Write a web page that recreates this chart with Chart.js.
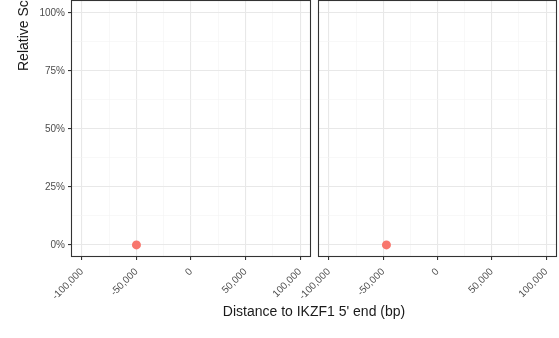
<!DOCTYPE html>
<html>
<head>
<meta charset="utf-8">
<script src="https://cdn.jsdelivr.net/npm/chart.js@4/dist/chart.umd.min.js"></script>
<style>
  body { margin: 0; background: #fff; width: 559px; height: 338px; overflow: hidden; position: relative; font-family: "Liberation Sans", Arial, sans-serif; }
  canvas { position: absolute; top: 0; }
  #yTitle { position: absolute; left: 16px; top: 71px; transform-origin: 0 0; transform: rotate(-90deg); font-size: 14px; line-height: 1; white-space: nowrap; color: #1a1a1a; }
  #xTitle { position: absolute; left: 71px; width: 486px; top: 303px; text-align: center; font-size: 14px; color: #1a1a1a; }
</style>
</head>
<body>
<canvas id="panelLeft" width="314" height="338" style="left:0"></canvas>
<canvas id="panelRight" width="279" height="338" style="left:280px"></canvas>
<div id="yTitle">Relative Score</div>
<div id="xTitle">Distance to IKZF1 5' end (bp)</div>
<script>
// data
var leftX = [-50000];
var leftY = [0];
var rightX = [-47000];
var rightY = [0];

var xTickValues = [-100000, -50000, 0, 50000, 100000];
var xTickLabels = ["-100,000", "-50,000", "0", "50,000", "100,000"];
var xMinorValues = [-75000, -25000, 25000, 75000];
var yTickValues = [0, 25, 50, 75, 100];
var yTickLabels = ["0%", "25%", "50%", "75%", "100%"];
var yMinorValues = [12.5, 37.5, 62.5, 87.5];

var xMin = -110000, xMax = 110000;
var yMin = -5.2, yMax = 105.6;

function isMajor(list, v){
  return list.indexOf(v) >= 0;
}

var panelBorder = {
  id: 'panelBorder',
  afterDraw: function(chart){
    var a = chart.chartArea;
    var ctx = chart.ctx;
    ctx.save();
    ctx.strokeStyle = '#333333';
    ctx.lineWidth = 1.1;
    ctx.strokeRect(a.left + 0.5, a.top + 0.5, a.right - a.left - 1, a.bottom - a.top - 1);
    ctx.restore();
  }
};

function makeX(){
  return {
    type: 'linear',
    min: xMin,
    max: xMax,
    afterBuildTicks: function(scale){
      var all = xTickValues.concat(xMinorValues).sort(function(a,b){return a-b;});
      scale.ticks = all.map(function(v){ return {value: v}; });
    },
    afterFit: function(scale){
      scale.height = 81;
      scale.paddingLeft = 0;
      scale.paddingRight = 0;
    },
    border: {display: false},
    grid: {
      color: function(c){ return isMajor(xTickValues, c.tick.value) ? '#e8e8e8' : '#f3f3f3'; },
      lineWidth: function(c){ return isMajor(xTickValues, c.tick.value) ? 1.1 : 0.6; },
      tickColor: function(c){ return isMajor(xTickValues, c.tick.value) ? '#333333' : 'rgba(0,0,0,0)'; },
      tickLength: 3,
      drawTicks: true
    },
    ticks: {
      autoSkip: false,
      minRotation: 45,
      maxRotation: 45,
      padding: 6,
      color: '#4d4d4d',
      font: {family: '"Liberation Sans", Arial, sans-serif', size: 10},
      callback: function(v){
        var i = xTickValues.indexOf(v);
        return i >= 0 ? xTickLabels[i] : '';
      }
    }
  };
}

function makeY(show){
  return {
    type: 'linear',
    display: true,
    min: yMin,
    max: yMax,
    afterBuildTicks: function(scale){
      var all = yTickValues.concat(yMinorValues).sort(function(a,b){return a-b;});
      scale.ticks = all.map(function(v){ return {value: v}; });
    },
    afterFit: function(scale){
      scale.width = show ? 71 : 0;
      scale.paddingTop = 0;
      scale.paddingBottom = 0;
    },
    border: {display: false},
    grid: {
      color: function(c){ return isMajor(yTickValues, c.tick.value) ? '#e8e8e8' : '#f3f3f3'; },
      lineWidth: function(c){ return isMajor(yTickValues, c.tick.value) ? 1.1 : 0.6; },
      tickColor: function(c){ return (show && isMajor(yTickValues, c.tick.value)) ? '#333333' : 'rgba(0,0,0,0)'; },
      tickLength: show ? 3 : 0,
      drawTicks: show
    },
    ticks: {
      display: show,
      padding: 3,
      color: '#4d4d4d',
      font: {family: '"Liberation Sans", Arial, sans-serif', size: 10},
      callback: function(v){
        var i = yTickValues.indexOf(v);
        return i >= 0 ? yTickLabels[i] : '';
      }
    }
  };
}

function makePanel(id, xs, ys, showY, pad){
  var pts = xs.map(function(x, i){ return {x: x, y: ys[i]}; });
  return new Chart(document.getElementById(id), {
    type: 'scatter',
    data: {
      datasets: [{
        data: pts,
        backgroundColor: '#F8766D',
        borderWidth: 0,
        pointRadius: 4.5
      }]
    },
    options: {
      responsive: false,
      animation: false,
      devicePixelRatio: 1,
      layout: {padding: pad, autoPadding: false},
      plugins: {legend: {display: false}, tooltip: {enabled: false}},
      scales: {x: makeX(), y: makeY(showY)}
    },
    plugins: [panelBorder]
  });
}

makePanel('panelLeft', leftX, leftY, true, {top: 0, right: 3, left: 0, bottom: 0});
makePanel('panelRight', rightX, rightY, false, {top: 0, right: 2, left: 38, bottom: 0});
</script>
</body>
</html>
